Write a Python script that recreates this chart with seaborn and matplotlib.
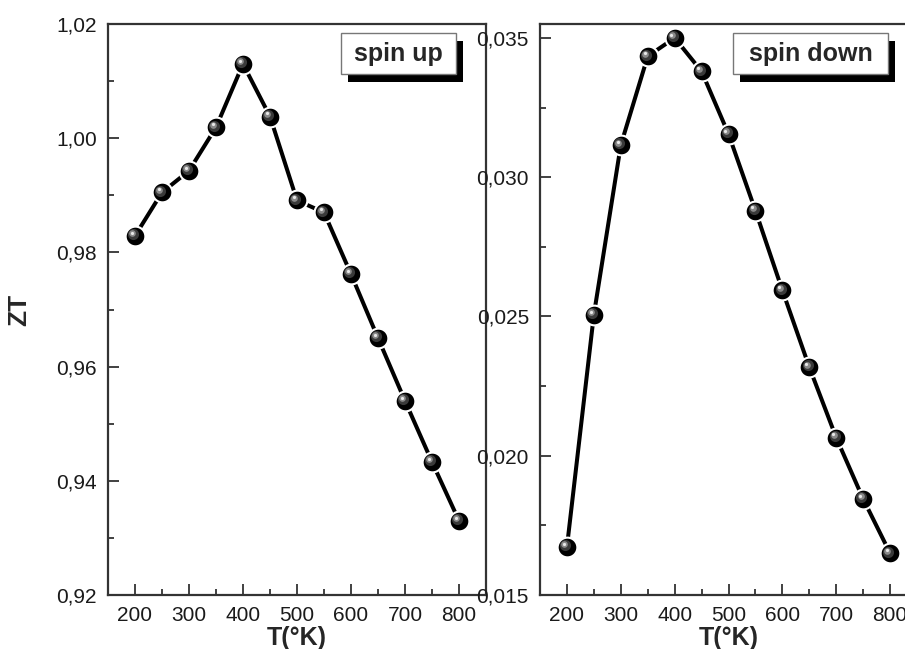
import matplotlib
matplotlib.use("Agg")
import matplotlib.pyplot as plt
import numpy as np
import pandas as pd
import seaborn as sns
from matplotlib.ticker import MultipleLocator, FuncFormatter
from matplotlib.patches import Rectangle
from matplotlib.transforms import offset_copy

# Temperature sweep (K) and figure of merit for both spin channels
temperature = [200, 250, 300, 350, 400, 450, 500, 550, 600, 650, 700, 750, 800]
zt_spin_up = [0.9829, 0.9905, 0.9943, 1.0019, 1.0130, 1.0038, 0.9891, 0.9870,
              0.9762, 0.9650, 0.9540, 0.9433, 0.9330]
zt_spin_down = [0.01672, 0.02506, 0.03115, 0.03434, 0.03500, 0.03380, 0.03155,
                0.02880, 0.02594, 0.02318, 0.02065, 0.01845, 0.01650]

panel_titles = ["spin up", "spin down"]
x_label = "T(°K)"
y_label = "ZT"

sns.set_style("ticks")
plt.rcParams["font.family"] = ["Liberation Sans", "DejaVu Sans"]

W, H = 905, 649
fig = plt.figure(figsize=(W / 100, H / 100), dpi=100)


def frac(x0, y0, x1, y1):
    return [x0 / W, 1 - y1 / H, (x1 - x0) / W, (y1 - y0) / H]


ax_up = fig.add_axes(frac(108, 24, 486, 595))
ax_dn = fig.add_axes(frac(540, 24, 917, 595))

spine_col = "#333333"


def comma_fmt(decimals):
    return FuncFormatter(lambda v, _: f"{v:.{decimals}f}".replace(".", ","))


def draw_panel(ax, values, title, box, ylim, ymajor, yminor, decimals):
    df = pd.DataFrame({"T": temperature, "ZT": values})
    sns.lineplot(data=df, x="T", y="ZT", ax=ax, color="black", linewidth=2.9,
                 marker="o", markersize=14.2, markerfacecolor="black",
                 markeredgecolor="white", markeredgewidth=1.5, zorder=3)
    # glossy highlight on each ball
    for dx, ms, col in [(-1.2, 8.0, "#3a3a3a"), (-1.9, 4.8, "#8a8a8a"),
                        (-2.3, 2.3, "#e8e8e8")]:
        tr = offset_copy(ax.transData, fig=fig, x=dx, y=-dx, units="points")
        ax.plot(temperature, values, linestyle="none", marker="o",
                markersize=ms, color=col, markeredgewidth=0, transform=tr,
                zorder=4)

    ax.set_xlim(150, 850)
    ax.set_ylim(*ylim)
    ax.xaxis.set_major_locator(MultipleLocator(100))
    ax.xaxis.set_minor_locator(MultipleLocator(50))
    ax.yaxis.set_major_locator(MultipleLocator(ymajor))
    ax.yaxis.set_minor_locator(MultipleLocator(yminor))
    ax.yaxis.set_major_formatter(comma_fmt(decimals))

    for s in ax.spines.values():
        s.set_visible(True)
        s.set_color(spine_col)
        s.set_linewidth(1.6)
    ax.tick_params(which="both", direction="in", top=False, right=False,
                   color=spine_col, width=1.3)
    ax.tick_params(which="major", length=8, labelsize=15, pad=8,
                   labelcolor="#1a1a1a")
    ax.tick_params(which="minor", length=4.5)

    ax.set_xlabel(x_label, fontsize=18, fontweight="bold")
    ax.xaxis.set_label_coords(0.5, -0.054)
    ax.set_ylabel("")

    # title box with drop shadow
    x0, x1, y0, y1 = box
    ax_w = ax.get_position().width * W
    ax_h = ax.get_position().height * H
    dx, dy = 7 / ax_w, -8 / ax_h
    ax.add_patch(Rectangle((x0 + dx, y0 + dy), x1 - x0, y1 - y0,
                           transform=ax.transAxes, facecolor="black",
                           edgecolor="none", zorder=5, clip_on=False))
    ax.add_patch(Rectangle((x0, y0), x1 - x0, y1 - y0,
                           transform=ax.transAxes, facecolor="white",
                           edgecolor="#777777", linewidth=1.0, zorder=6,
                           clip_on=False))
    ax.text((x0 + x1) / 2, (y0 + y1) / 2, title, transform=ax.transAxes,
            ha="center", va="center", fontsize=18, fontweight="bold",
            zorder=7)


draw_panel(ax_up, zt_spin_up, panel_titles[0],
           (0.616, 0.921, 0.912, 0.984), (0.92, 1.02), 0.02, 0.01, 2)
draw_panel(ax_dn, zt_spin_down, panel_titles[1],
           (0.512, 0.923, 0.912, 0.984), (0.015, 0.0355), 0.005, 0.0025, 3)

ax_up.set_ylabel(y_label, fontsize=19, fontweight="bold")
ax_up.yaxis.set_label_coords(-0.203, 0.5)

fig.savefig("out.png", dpi=100, facecolor="white")
